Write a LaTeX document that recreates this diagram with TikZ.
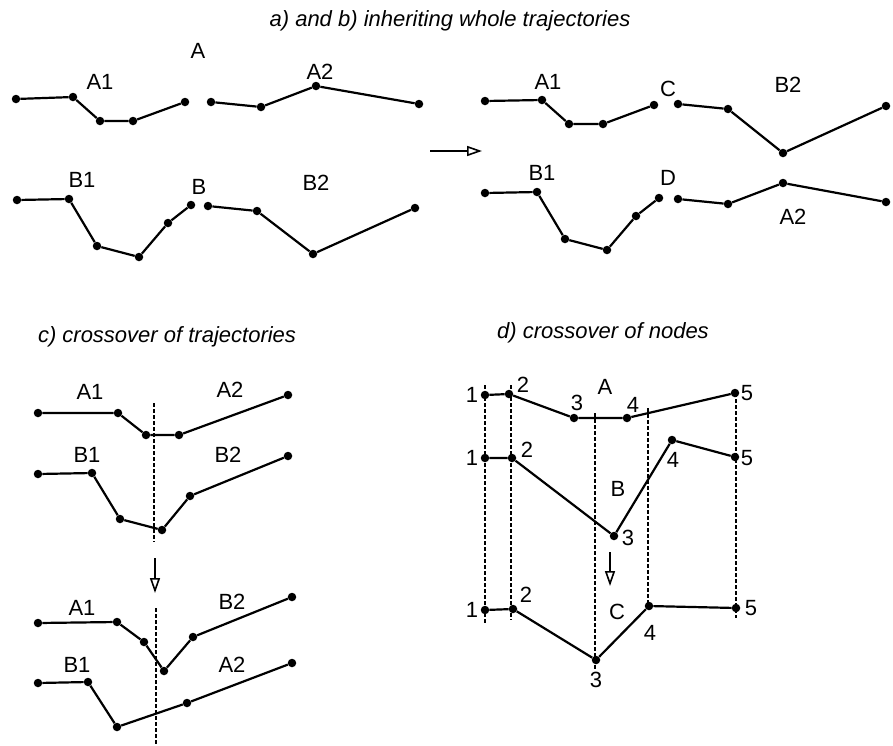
\documentclass[tikz,border=0pt]{standalone}
\usepackage{fontspec}
\setmainfont{Liberation Sans}
\usetikzlibrary{arrows.meta,positioning}

\tikzset{
  dot/.style={circle, fill=black, inner sep=0pt, minimum size=8.5pt},
  traj/.style={line width=2.2pt},
  lbl/.style={font=\fontsize{22}{26}\selectfont, inner sep=0pt},
  ttl/.style={font=\fontsize{22}{26}\selectfont\itshape, inner sep=0pt},
  cut/.style={line width=1.8pt, dash pattern=on 3.5pt off 2.5pt},
  goarrow/.style={line width=1.6pt, -{Triangle[open, length=15pt, width=10pt]}}
}

\begin{document}
\begin{tikzpicture}[x=1pt, y=-1pt]
    \useasboundingbox (0,0) rectangle (893,745);

    % Titles
    \node[ttl] (ttlab) at (450,21) {a) and b) inheriting whole trajectories};
    \node[ttl] (ttlc) at (167,337) {c) crossover of trajectories};
    \node[ttl] (ttld) at (603,333) {d) crossover of nodes};

    % a) parents A and B
    \foreach \n/\x/\y in {pa1/16/99, pa2/73/97, pa3/100/121, pa4/133/121, pa5/185/102,
        pa6/211/102, pa7/261/107, pa8/316/86, pa9/419/104,
        pb1/17/200, pb2/69/199, pb3/97/246, pb4/139/257, pb5/168/223, pb6/191/205,
        pb7/208/206, pb8/257/211, pb9/313/254, pb10/415/208}
        \node[dot] (\n) at (\x,\y) {};
    \draw[traj] (pa1) -- (pa2) -- (pa3) -- (pa4) -- (pa5);
    \draw[traj] (pa6) -- (pa7) -- (pa8) -- (pa9);
    \draw[traj] (pb1) -- (pb2) -- (pb3) -- (pb4) -- (pb5) -- (pb6);
    \draw[traj] (pb7) -- (pb8) -- (pb9) -- (pb10);
    \node[lbl] (la) at (198,51) {A};
    \node[lbl] (la1) at (100,82) {A1};
    \node[lbl] (la2) at (320,72) {A2};
    \node[lbl] (lb) at (199,187) {B};
    \node[lbl] (lb1) at (82,180) {B1};
    \node[lbl] (lb2) at (316,183) {B2};

    % arrow between a) and b)
    \coordinate (abfrom) at (430,151);
    \coordinate (abto) at (482,151);
    \draw[goarrow] (abfrom) -- (abto);

    % b) children C and D
    \foreach \n/\x/\y in {qc1/485/101, qc2/542/100, qc3/569/124, qc4/603/124, qc5/654/105,
        qc6/678/104, qc7/728/109, qc8/783/153, qc9/886/106,
        qd1/485/193, qd2/537/192, qd3/565/239, qd4/607/250, qd5/636/216, qd6/659/198,
        qd7/678/199, qd8/728/204, qd9/783/183, qd10/886/202}
        \node[dot] (\n) at (\x,\y) {};
    \draw[traj] (qc1) -- (qc2) -- (qc3) -- (qc4) -- (qc5);
    \draw[traj] (qc6) -- (qc7) -- (qc8) -- (qc9);
    \draw[traj] (qd1) -- (qd2) -- (qd3) -- (qd4) -- (qd5) -- (qd6);
    \draw[traj] (qd7) -- (qd8) -- (qd9) -- (qd10);
    \node[lbl] (lqa1) at (548,82) {A1};
    \node[lbl] (lqc) at (668,89) {C};
    \node[lbl] (lqb2) at (788,85) {B2};
    \node[lbl] (lqb1) at (542,173) {B1};
    \node[lbl] (lqd) at (668,178) {D};
    \node[lbl] (lqa2) at (793,217) {A2};

    % c) crossover of trajectories - before
    \foreach \n/\x/\y in {ca1/38/413, ca2/118/413, ca3/146/435, ca4/179/435, ca5/288/395,
        cb1/38/474, cb2/92/473, cb3/120/519, cb4/162/530, cb5/190/496, cb6/288/456}
        \node[dot] (\n) at (\x,\y) {};
    \draw[traj] (ca1) -- (ca2) -- (ca3) -- (ca4) -- (ca5);
    \draw[traj] (cb1) -- (cb2) -- (cb3) -- (cb4) -- (cb5) -- (cb6);
    \node[lbl] (lca1) at (90,392) {A1};
    \node[lbl] (lca2) at (230,390) {A2};
    \node[lbl] (lcb1) at (87,455) {B1};
    \node[lbl] (lcb2) at (228,455) {B2};
    \coordinate (cuttop1) at (154,403);
    \coordinate (cutbot1) at (154,542);
    \draw[cut] (cuttop1) -- (cutbot1);

    % c) arrow
    \coordinate (cfrom) at (155,558);
    \coordinate (cto) at (155,593);
    \draw[goarrow] (cfrom) -- (cto);

    % c) crossover of trajectories - after
    \foreach \n/\x/\y in {cc1/38/623, cc2/117/622, cc3/144/642, cc4/164/671, cc5/193/637, cc6/292/597,
        cd1/38/683, cd2/88/682, cd3/117/727, cd4/187/703, cd5/292/663}
        \node[dot] (\n) at (\x,\y) {};
    \draw[traj] (cc1) -- (cc2) -- (cc3) -- (cc4) -- (cc5) -- (cc6);
    \draw[traj] (cd1) -- (cd2) -- (cd3) -- (cd4) -- (cd5);
    \node[lbl] (lcc1) at (82,608) {A1};
    \node[lbl] (lcc2) at (232,602) {B2};
    \node[lbl] (lcd1) at (77,665) {B1};
    \node[lbl] (lcd2) at (232,665) {A2};
    \coordinate (cuttop2) at (156,608);
    \coordinate (cutbot2) at (156,745);
    \draw[cut] (cuttop2) -- (cutbot2);

    % d) crossover of nodes
    \foreach \n/\x/\y in {da1/485/395, da2/509/394, da3/574/418, da4/627/418, da5/735/393,
        db1/485/458, db2/512/458, db3/614/536, db4/672/440, db5/735/457,
        dc1/485/610, dc2/513/609, dc3/596/660, dc4/649/606, dc5/736/608}
        \node[dot] (\n) at (\x,\y) {};
    \draw[traj] (da1) -- (da2) -- (da3) -- (da4) -- (da5);
    \draw[traj] (db1) -- (db2) -- (db3) -- (db4) -- (db5);
    \draw[traj] (dc1) -- (dc2) -- (dc3) -- (dc4) -- (dc5);

    % d) vertical cut lines
    \foreach \n/\x/\ya/\yb in {v1/485/385/623, v2/511/385/620, v3/595/413/670, v4/648/408/607, v5/736/393/618} {
        \coordinate (\n top) at (\x,\ya);
        \coordinate (\n bot) at (\x,\yb);
        \draw[cut] (\n top) -- (\n bot);
    }

    % d) labels
    \node[lbl] (lda) at (605,387) {A};
    \node[lbl] (ldb) at (618,489) {B};
    \node[lbl] (ldc) at (617,612) {C};
    \foreach \n/\x/\y/\t in {la1/472/395/1, la2/523/385/2, la3/577/403/3, la4/633/405/4, la5/747/393/5,
        lb1/472/458/1, lb2/527/450/2, lb3/628/538/3, lb4/673/460/4, lb5/747/458/5,
        lc1/472/610/1, lc2/526/595/2, lc3/596/680/3, lc4/650/633/4, lc5/751/608/5}
        \node[lbl] (n\n) at (\x,\y) {\t};

    % d) arrow
    \coordinate (dfrom) at (610,552);
    \coordinate (dto) at (610,586);
    \draw[goarrow] (dfrom) -- (dto);
\end{tikzpicture}
\end{document}
